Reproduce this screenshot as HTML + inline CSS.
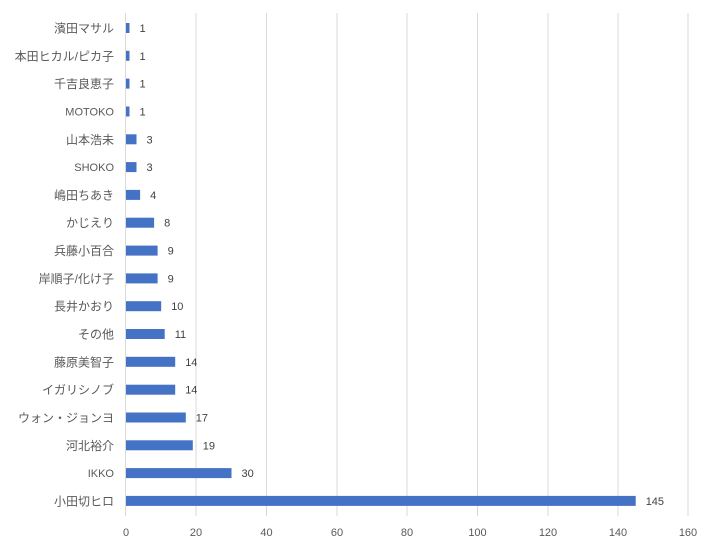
<!DOCTYPE html>
<html><head><meta charset="utf-8"><style>
html,body{margin:0;padding:0;background:#fff;}
svg{display:block;font-family:"Liberation Sans","Noto Sans CJK JP",sans-serif;}
</style></head><body>
<svg width="713" height="548" viewBox="0 0 713 548" xmlns="http://www.w3.org/2000/svg">
<g stroke="#d9d9d9" stroke-width="1">
<line x1="125.5" y1="13" x2="125.5" y2="516"/>
<line x1="196" y1="13" x2="196" y2="516"/>
<line x1="266.5" y1="13" x2="266.5" y2="516"/>
<line x1="337" y1="13" x2="337" y2="516"/>
<line x1="407" y1="13" x2="407" y2="516"/>
<line x1="477.5" y1="13" x2="477.5" y2="516"/>
<line x1="548" y1="13" x2="548" y2="516"/>
<line x1="618" y1="13" x2="618" y2="516"/>
<line x1="688" y1="13" x2="688" y2="516"/>
</g>
<g font-size="11" fill="#595959" text-anchor="middle">
<text x="126" y="536">0</text><text x="196" y="536">20</text><text x="266.5" y="536">40</text>
<text x="337" y="536">60</text><text x="407" y="536">80</text><text x="477.5" y="536">100</text>
<text x="548" y="536">120</text><text x="618" y="536">140</text><text x="688" y="536">160</text>
</g>
<g fill="#4472c4">
<rect x="126" y="23" width="3.5" height="10"/>
<rect x="126" y="50.8" width="3.5" height="10"/>
<rect x="126" y="78.6" width="3.5" height="10"/>
<rect x="126" y="106.5" width="3.5" height="10"/>
<rect x="126" y="134.3" width="10.5" height="10"/>
<rect x="126" y="162.1" width="10.5" height="10"/>
<rect x="126" y="189.9" width="14.1" height="10"/>
<rect x="126" y="217.7" width="28.1" height="10"/>
<rect x="126" y="245.6" width="31.6" height="10"/>
<rect x="126" y="273.4" width="31.6" height="10"/>
<rect x="126" y="301.2" width="35.2" height="10"/>
<rect x="126" y="329" width="38.7" height="10"/>
<rect x="126" y="356.8" width="49.2" height="10"/>
<rect x="126" y="384.7" width="49.2" height="10"/>
<rect x="126" y="412.5" width="59.8" height="10"/>
<rect x="126" y="440.3" width="66.8" height="10"/>
<rect x="126" y="468.1" width="105.5" height="10"/>
<rect x="126" y="495.9" width="509.7" height="10"/>
</g>
<g font-size="12" fill="#595959" text-anchor="end">
<text x="114" y="32.5">濱田マサル</text>
<text x="114" y="60.3">本田ヒカル/ピカ子</text>
<text x="114" y="88.1">千吉良恵子</text>
<text x="114" y="115.5" font-size="11">MOTOKO</text>
<text x="114" y="143.8">山本浩未</text>
<text x="114" y="171.1" font-size="11">SHOKO</text>
<text x="114" y="199.4">嶋田ちあき</text>
<text x="114" y="227.2">かじえり</text>
<text x="114" y="255.1">兵藤小百合</text>
<text x="114" y="282.9">岸順子/化け子</text>
<text x="114" y="310.7">長井かおり</text>
<text x="114" y="338.5">その他</text>
<text x="114" y="366.3">藤原美智子</text>
<text x="114" y="394.2">イガリシノブ</text>
<text x="114" y="422">ウォン・ジョンヨ</text>
<text x="114" y="449.8">河北裕介</text>
<text x="114" y="477.1" font-size="11">IKKO</text>
<text x="114" y="505.4">小田切ヒロ</text>
</g>
<g font-size="11" fill="#404040">
<text x="139.5" y="32">1</text>
<text x="139.5" y="59.8">1</text>
<text x="139.5" y="87.6">1</text>
<text x="139.5" y="115.5">1</text>
<text x="146.5" y="143.3">3</text>
<text x="146.5" y="171.1">3</text>
<text x="150.1" y="198.9">4</text>
<text x="164.1" y="226.7">8</text>
<text x="167.6" y="254.6">9</text>
<text x="167.6" y="282.4">9</text>
<text x="171.2" y="310.2">10</text>
<text x="174.7" y="338">11</text>
<text x="185.2" y="365.8">14</text>
<text x="185.2" y="393.7">14</text>
<text x="195.8" y="421.5">17</text>
<text x="202.8" y="449.3">19</text>
<text x="241.5" y="477.1">30</text>
<text x="645.7" y="504.9">145</text>
</g>
</svg>
</body></html>
